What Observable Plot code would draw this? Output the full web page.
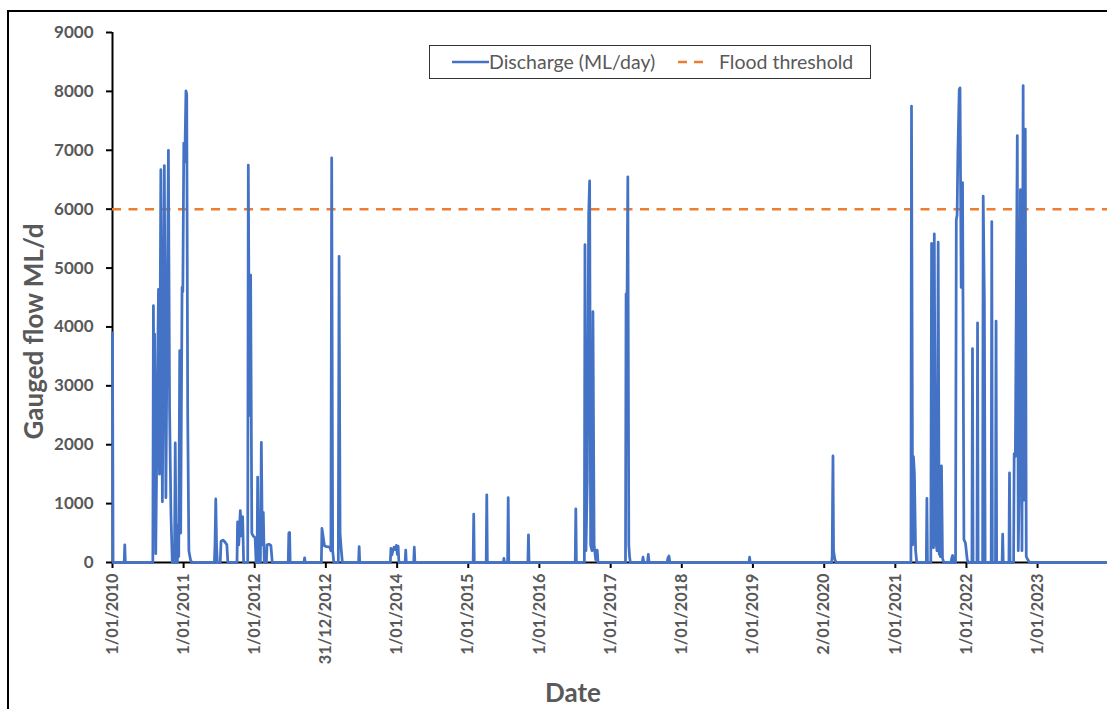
<!DOCTYPE html>
<html>
<head>
<meta charset="utf-8">
<script src="https://cdn.jsdelivr.net/npm/d3@7"></script>
<script src="https://cdn.jsdelivr.net/npm/@observablehq/plot@0.6"></script>
<style>
  html, body { margin: 0; padding: 0; background: #fff; overflow: hidden; }
  #wrap { position: relative; width: 1107px; height: 709px; font-family: Lato, "Open Sans", sans-serif; }
  #border { position: absolute; left: 7px; top: 10px; width: 1300px; height: 900px;
            border-left: 2px solid #000; border-top: 2px solid #000; pointer-events: none; }
  #legend { position: absolute; left: 429px; top: 45px; width: 442px; height: 34px; box-sizing: border-box;
            border: 1.5px solid #333; background: #fff; font-size: 19.5px; color: #595959; }
  #legend .item { position: absolute; top: 0; height: 31px; display: flex; align-items: center; white-space: nowrap; }
  #legend svg { display: block; }
  svg text { font-family: Lato, "Open Sans", sans-serif; }
</style>
</head>
<body>
<div id="wrap">
  <div id="chart"></div>
  <div id="border"></div>
  <div id="legend">
    <div class="item" style="left:22px"><svg width="37" height="6"><line x1="0" y1="3" x2="37" y2="3" stroke="#4472C4" stroke-width="2.5"/></svg><span>Discharge (ML/day)</span></div>
    <div class="item" style="left:248px"><svg width="30" height="6"><line x1="0" y1="3" x2="30" y2="3" stroke="#ED7D31" stroke-width="2.5" stroke-dasharray="9,7"/></svg><span style="margin-left:11px">Flood threshold</span></div>
  </div>
</div>
<script>
// Daily gauged flow (ML/day): dates where the hydrograph changes, with the flow on each
const dates = [
  "2010-01-01","2010-01-04","2010-03-02","2010-03-05","2010-03-08",
  "2010-07-27","2010-07-30","2010-08-02","2010-08-05","2010-08-11","2010-08-19","2010-08-25","2010-08-30",
  "2010-09-06","2010-09-14","2010-09-24","2010-10-02","2010-10-15","2010-10-21","2010-10-28","2010-11-04",
  "2010-11-15","2010-11-19","2010-11-24","2010-11-30","2010-12-04","2010-12-07","2010-12-12","2010-12-17",
  "2010-12-24","2010-12-28","2011-01-02","2011-01-07","2011-01-13","2011-01-17","2011-01-22","2011-01-28",
  "2011-02-05","2011-02-12",
  "2011-06-08","2011-06-11","2011-06-15","2011-06-19","2011-06-23",
  "2011-07-08","2011-07-12","2011-07-22","2011-08-01","2011-08-11","2011-08-16",
  "2011-10-02","2011-10-05","2011-10-11","2011-10-19","2011-10-25","2011-10-31","2011-11-05",
  "2011-11-26","2011-11-29","2011-12-05","2011-12-11","2011-12-17","2011-12-24","2012-01-03","2012-01-08",
  "2012-01-13","2012-01-16","2012-01-20","2012-01-30","2012-02-04","2012-02-09","2012-02-14","2012-02-19",
  "2012-03-01","2012-03-04","2012-03-14","2012-03-24","2012-03-31",
  "2012-06-21","2012-06-24","2012-06-28","2012-07-01",
  "2012-09-10","2012-09-13","2012-09-16",
  "2012-12-08","2012-12-11","2012-12-18","2012-12-24","2013-01-05","2013-01-20","2013-01-26","2013-01-30",
  "2013-02-04","2013-02-10","2013-03-05","2013-03-09","2013-03-14","2013-03-20","2013-03-26",
  "2013-06-17","2013-06-20","2013-06-23",
  "2013-11-27","2013-11-30","2013-12-05","2013-12-10","2013-12-16","2013-12-22","2013-12-28","2014-01-02",
  "2014-01-06","2014-01-10","2014-02-11","2014-02-14","2014-02-17","2014-03-27","2014-03-30","2014-04-02",
  "2015-01-26","2015-01-29","2015-02-01","2015-04-03","2015-04-06","2015-04-09",
  "2015-06-30","2015-07-03","2015-07-06","2015-07-22","2015-07-25","2015-07-28",
  "2015-11-03","2015-11-06","2015-11-09",
  "2016-07-03","2016-07-06","2016-07-09",
  "2016-08-19","2016-08-22","2016-08-27","2016-09-03","2016-09-10","2016-09-15","2016-09-20","2016-09-27",
  "2016-10-02","2016-10-08","2016-10-16","2016-10-24","2016-10-28",
  "2017-03-18","2017-03-21","2017-03-26","2017-03-30","2017-04-04","2017-04-08","2017-04-12",
  "2017-06-12","2017-06-16","2017-06-20","2017-07-09","2017-07-13","2017-07-17",
  "2017-10-18","2017-10-21","2017-10-27","2017-11-01",
  "2018-12-12","2018-12-15","2018-12-18",
  "2020-02-09","2020-02-12","2020-02-14","2020-02-16","2020-02-19","2020-02-25","2020-03-03",
  "2021-03-22","2021-03-25","2021-03-31","2021-04-04","2021-04-09","2021-04-15","2021-04-21",
  "2021-06-09","2021-06-12","2021-06-15",
  "2021-07-02","2021-07-06","2021-07-11","2021-07-16","2021-07-20","2021-07-26","2021-08-03","2021-08-09",
  "2021-08-14","2021-08-21","2021-08-26","2021-08-31","2021-09-06",
  "2021-10-14","2021-10-17","2021-10-22","2021-10-26",
  "2021-11-06","2021-11-10","2021-11-14","2021-11-18","2021-11-25","2021-11-29","2021-12-05","2021-12-12",
  "2021-12-19","2021-12-27","2022-01-05","2022-01-10",
  "2022-01-29","2022-02-01","2022-02-04","2022-02-24","2022-02-27","2022-03-02",
  "2022-03-25","2022-03-28","2022-04-03","2022-04-07",
  "2022-05-08","2022-05-11","2022-05-14","2022-05-30","2022-06-02","2022-06-05",
  "2022-07-03","2022-07-06","2022-07-09","2022-08-07","2022-08-10","2022-08-13",
  "2022-08-31","2022-09-03","2022-09-09","2022-09-19","2022-09-24","2022-09-28","2022-10-05","2022-10-09",
  "2022-10-13","2022-10-19","2022-10-23","2022-10-30","2022-11-04","2022-11-12","2022-11-20",
  "2023-12-26"
];
const flow = [
  3900,0,0,300,0,
  0,4360,2500,3880,150,2800,4640,1500,
  6670,1030,6740,1100,7000,2600,820,0,
  0,2030,0,0,640,100,3600,500,
  4670,4600,7120,6800,8010,7950,2500,200,
  50,0,
  0,300,1080,300,0,
  0,360,380,350,300,0,
  0,690,300,880,450,780,0,
  0,6750,2500,4880,500,450,420,0,
  0,1450,0,0,2040,300,850,0,
  0,300,310,290,0,
  0,500,510,0,
  0,80,0,
  0,580,420,280,270,260,200,6870,
  200,0,0,5200,500,220,0,
  0,270,0,
  0,240,130,200,260,220,290,140,
  280,0,0,210,0,0,260,0,
  0,820,0,0,1150,0,
  0,70,0,0,1100,0,
  0,470,0,
  0,910,0,
  0,5400,200,1400,5900,6480,300,200,
  4260,300,50,210,0,
  0,4560,4500,6550,300,100,0,
  0,90,0,0,140,0,
  0,70,110,0,
  0,90,0,
  0,100,1100,1810,200,60,0,
  0,7750,300,1800,1500,200,0,
  0,1090,0,
  0,5420,300,250,5580,400,200,5440,
  150,100,1640,80,0,
  0,70,120,0,
  0,5820,5900,6940,8030,8060,4670,6450,
  390,330,50,0,
  0,3630,0,0,4070,0,
  0,6220,4450,0,
  0,5790,0,0,4100,0,
  0,480,0,0,1520,0,
  0,1850,1800,7250,200,1060,6330,5700,
  200,8100,1060,7360,100,50,0,
  0
];
const threshold = 6000;

// Date-axis ticks and their labels
const tickDates = [
  "2010-01-01","2011-01-01","2012-01-01","2012-12-31","2014-01-01","2015-01-01","2016-01-01",
  "2017-01-01","2018-01-01","2019-01-01","2020-01-02","2021-01-01","2022-01-01","2023-01-01"
];
const tickLabels = [
  "1/01/2010","1/01/2011","1/01/2012","31/12/2012","1/01/2014","1/01/2015","1/01/2016",
  "1/01/2017","1/01/2018","1/01/2019","2/01/2020","1/01/2021","1/01/2022","1/01/2023"
];
const yTicks = [0, 1000, 2000, 3000, 4000, 5000, 6000, 7000, 8000, 9000];

const parse = d3.utcParse("%Y-%m-%d");
const series = dates.map((d, i) => ({date: parse(d), flow: flow[i]}));
const xTicks = tickDates.map(parse);
const labelOf = new Map(xTicks.map((d, i) => [+d, tickLabels[i]]));
const start = parse("2010-01-01");

const grey = "#595959";

const chart = Plot.plot({
  width: 1107,
  height: 709,
  marginLeft: 112,
  marginRight: 0,
  marginTop: 32,
  marginBottom: 147,
  style: {fontFamily: "Lato, 'Open Sans', sans-serif", fontSize: "17px", background: "transparent", overflow: "visible"},
  x: {type: "utc", domain: [start, parse("2023-12-26")], axis: null},
  y: {domain: [0, 9000], axis: null},
  marks: [
    // axis lines
    Plot.ruleY([0], {stroke: "#000", strokeWidth: 2}),
    Plot.ruleX([start], {y1: 0, y2: 9000, stroke: "#000", strokeWidth: 2}),
    Plot.axisY(yTicks, {
      tickSize: 6, tickPadding: 13, stroke: "#000", strokeWidth: 2,
      fill: grey, fontWeight: "bold", fontSize: 17, tickFormat: d => String(d), label: null
    }),
    Plot.axisX(xTicks, {
      tickSize: 6, tickPadding: 5, tickRotate: -90, stroke: "#000", strokeWidth: 2,
      fill: grey, fontWeight: "bold", fontSize: 16.3, tickFormat: d => labelOf.get(+d), label: null
    }),
    // flood threshold
    Plot.ruleY([threshold], {stroke: "#ED7D31", strokeWidth: 2.5, strokeDasharray: "9,7.5"}),
    // discharge hydrograph
    Plot.line(series, {x: "date", y: "flow", stroke: "#4472C4", strokeWidth: 2.75, strokeLinejoin: "round"}),
    // axis titles
    Plot.text(["Gauged flow ML/d"], {frameAnchor: "left", textAnchor: "middle", dx: -78, dy: 34, rotate: -90,
      fill: grey, fontWeight: "bold", fontSize: 26}),
    Plot.text(["Date"], {frameAnchor: "bottom", textAnchor: "middle", dx: -37, dy: 139,
      fill: grey, fontWeight: "bold", fontSize: 26})
  ]
});
document.getElementById("chart").appendChild(chart);
</script>
</body>
</html>
